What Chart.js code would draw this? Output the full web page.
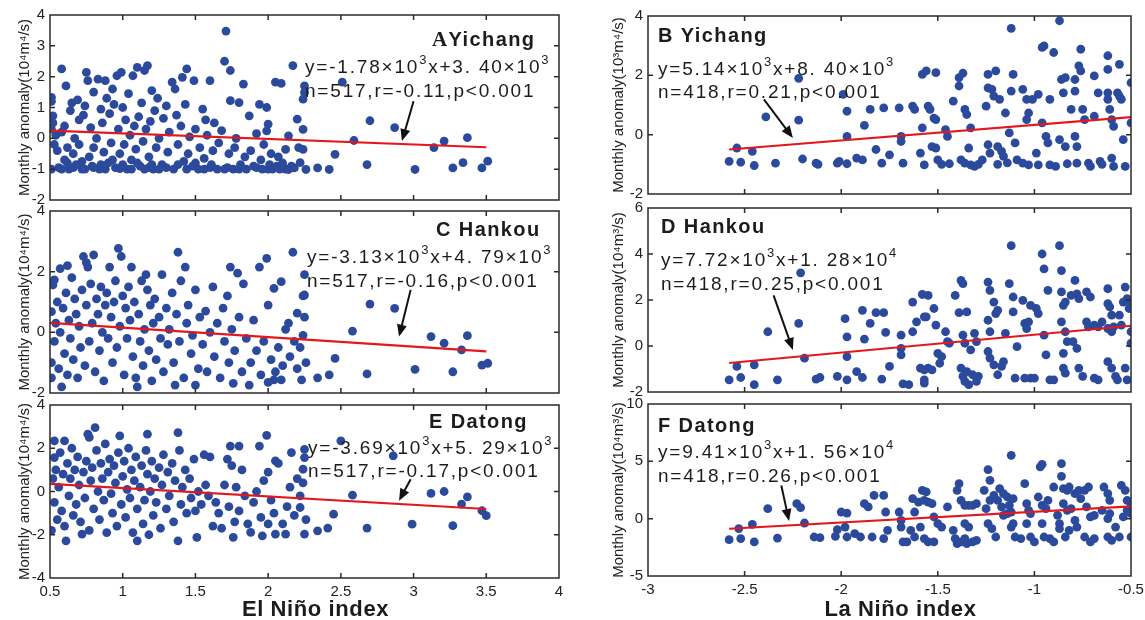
<!DOCTYPE html>
<html>
<head>
<meta charset="utf-8">
<script src="https://cdn.jsdelivr.net/npm/chart.js@4.4.0/dist/chart.umd.min.js"></script>
<style>
  html, body { margin: 0; padding: 0; background: #fff; }
  #wrap { position: relative; width: 1145px; height: 620px; overflow: hidden; }
  #wrap canvas { position: absolute; left: 0; top: 0; }
</style>
</head>
<body>
<div id="wrap"></div>
<script>
// ---- data: [index, anomaly] ----
const ptsA = [
  [0.51,1.33],[0.51,1.2],[0.52,0.73],[0.51,0.3],[0.51,-1.0],[0.53,-0.2],[0.52,0.5],[0.55,-0.4],[0.54,0.1],[0.56,-0.95],
  [0.58,2.25],[0.58,0.2],[0.58,-1.0],[0.6,-0.7],[0.6,0.4],[0.61,1.7],[0.62,-0.3],[0.62,-0.8],[0.63,-1.0],[0.64,0.9],
  [0.65,1.15],[0.66,-0.5],[0.66,-0.95],[0.67,0.0],[0.68,-0.85],[0.69,1.25],[0.7,0.6],[0.7,-0.2],[0.72,-1.0],[0.72,-0.75],
  [0.73,0.75],[0.74,1.05],[0.74,-1.0],[0.75,2.14],[0.76,1.87],[0.77,-0.6],[0.78,0.35],[0.79,-0.9],[0.8,1.5],[0.8,-0.3],
  [0.8,-0.95],[0.82,0.0],[0.83,1.92],[0.84,-1.0],[0.85,0.95],[0.85,-0.85],[0.86,0.5],[0.87,-0.45],[0.88,1.87],[0.88,-1.0],
  [0.89,1.3],[0.9,-0.8],[0.91,0.8],[0.92,-0.15],[0.93,1.6],[0.93,-0.7],[0.94,1.1],[0.95,-0.95],[0.96,2.03],[0.97,0.3],
  [0.98,-0.5],[0.98,-0.98],[0.99,2.14],[1.0,1.0],[1.0,-0.85],[1.01,-0.2],[1.02,0.6],[1.03,-1.0],[1.04,1.45],[1.05,0.1],
  [1.06,-0.7],[1.06,-1.0],[1.07,2.03],[1.08,0.4],[1.09,-0.35],[1.1,2.3],[1.1,-0.8],[1.11,0.7],[1.12,-0.9],[1.13,1.15],
  [1.14,-0.1],[1.15,2.2],[1.15,-1.0],[1.16,0.3],[1.17,2.36],[1.18,-0.6],[1.18,-0.95],[1.19,0.55],[1.2,1.55],[1.2,-0.85],
  [1.21,-1.0],[1.22,0.9],[1.23,-0.3],[1.24,1.3],[1.25,0.0],[1.25,-1.0],[1.27,-0.85],[1.28,0.65],[1.3,1.05],[1.3,-0.95],
  [1.31,-0.45],[1.32,0.2],[1.34,1.82],[1.35,-1.0],[1.36,1.6],[1.37,0.75],[1.38,-0.2],[1.38,-0.85],[1.4,0.4],[1.41,1.98],
  [1.42,-0.75],[1.43,1.1],[1.44,2.25],[1.44,-1.0],[1.45,-0.5],[1.46,0.05],[1.48,-0.9],[1.49,1.87],[1.5,0.3],[1.5,-0.8],
  [1.52,-1.0],[1.53,-0.3],[1.55,0.95],[1.56,-0.65],[1.56,-1.0],[1.57,0.6],[1.58,0.1],[1.6,1.87],[1.6,-0.95],[1.61,-0.85],
  [1.62,-0.4],[1.63,0.5],[1.65,-1.0],[1.66,-0.15],[1.68,0.25],[1.7,2.5],[1.7,-1.0],[1.71,3.48],[1.72,-0.95],[1.73,-0.5],
  [1.74,2.2],[1.74,1.22],[1.76,-1.0],[1.77,-0.3],[1.78,0.0],[1.8,1.16],[1.8,-1.0],[1.81,-0.85],[1.83,1.76],[1.84,-0.6],
  [1.85,-1.0],[1.87,0.73],[1.88,-0.4],[1.9,-0.9],[1.92,0.15],[1.92,-0.95],[1.94,1.1],[1.95,-0.7],[1.96,-1.0],[1.97,-0.2],
  [1.99,1.0],[1.99,0.24],[2.0,0.46],[2.0,-1.0],[2.01,-0.85],[2.02,-0.5],[2.03,-1.0],[2.05,1.82],[2.06,-0.9],[2.07,-0.6],
  [2.08,-1.0],[2.09,1.78],[2.1,-0.8],[2.12,-0.36],[2.12,-1.0],[2.14,0.08],[2.14,-1.01],[2.16,-0.9],[2.17,2.36],[2.18,-0.96],
  [2.2,0.62],[2.21,-0.3],[2.22,-0.79],[2.24,0.29],[2.24,1.27],[2.24,-0.36],[2.25,1.7],[2.25,1.49],[2.26,-1.01],[2.34,-0.96],
  [2.42,-1.01],[2.46,-0.52],[2.51,1.82],[2.59,-0.07],[2.68,-0.85],[2.7,0.57],[2.87,0.35],[3.01,-1.01],[3.14,-0.3],[3.21,-0.09],
  [3.27,-0.96],[3.34,-0.79],[3.37,0.02],[3.47,-0.96],[3.51,-0.74]
];
const ptsC = [
  [0.51,-1.5],[0.51,-1.0],[0.51,0.68],[0.52,1.56],[0.53,1.73],[0.58,-1.8],[0.62,2.2],[0.57,2.1],[0.73,2.5],[0.75,2.3],
  [0.8,2.55],[0.76,2.15],[0.97,2.77],[0.99,2.5],[0.91,2.15],[1.06,2.15],[1.16,1.9],[1.38,2.64],[1.43,2.15],[1.74,2.15],
  [1.79,1.95],[1.94,2.15],[1.99,2.44],[2.17,2.64],[2.09,1.67],[2.25,1.9],[2.25,1.23],[2.24,1.2],[2.2,0.63],[2.14,0.3],
  [2.04,1.45],[2.0,0.9],[2.58,0.04],[2.7,0.93],[2.87,0.79],[3.12,-0.14],[3.21,-0.36],[3.33,-0.58],[3.37,-0.11],[3.47,-1.08],
  [3.51,-1.02],[3.27,-1.3],[3.01,-1.22],[2.68,-1.37],[2.34,-1.5],[2.42,-1.4],[2.46,-0.86],[2.23,-1.57],[2.09,-1.57],[2.04,-1.57],
  [2.0,-1.65],[1.87,-1.74],[1.76,-1.68],[1.5,-1.74],[1.36,-1.74],[1.1,-1.8],
  [0.53,-0.3],[0.54,0.3],[0.55,1.0],[0.56,-1.2],[0.57,0.0],[0.59,0.8],[0.6,-0.7],[0.61,1.3],[0.62,-1.4],[0.63,0.4],
  [0.64,-0.2],[0.65,1.8],[0.66,-0.9],[0.67,1.1],[0.68,0.6],[0.69,-1.5],[0.7,0.2],[0.71,-0.5],[0.72,1.4],[0.74,-1.1],
  [0.75,0.9],[0.77,-0.3],[0.78,1.6],[0.79,0.3],[0.81,-1.3],[0.82,1.1],[0.83,0.6],[0.84,-0.6],[0.85,1.5],[0.86,0.0],
  [0.87,-1.6],[0.88,0.9],[0.89,1.3],[0.9,-0.2],[0.92,0.5],[0.93,-1.0],[0.94,1.0],[0.95,1.7],[0.96,-0.5],[0.98,0.2],
  [1.0,1.2],[1.01,-1.4],[1.02,0.8],[1.03,-0.2],[1.04,1.5],[1.05,0.4],[1.07,-0.8],[1.08,1.0],[1.09,-1.5],[1.11,0.6],
  [1.12,-0.3],[1.13,1.7],[1.14,-1.1],[1.15,0.1],[1.17,1.4],[1.18,-0.6],[1.19,0.9],[1.2,-1.6],[1.21,0.3],[1.22,1.1],
  [1.23,-0.9],[1.25,0.5],[1.26,-0.2],[1.27,1.9],[1.28,-1.3],[1.3,0.8],[1.31,-0.4],[1.32,0.1],[1.34,1.3],[1.35,-1.0],
  [1.37,0.6],[1.39,-0.3],[1.4,1.7],[1.42,-1.5],[1.44,0.3],[1.45,0.9],[1.47,-0.7],[1.48,-0.1],[1.5,1.4],[1.52,-1.2],
  [1.53,0.5],[1.55,-0.4],[1.57,0.7],[1.58,-1.3],[1.6,0.0],[1.62,1.5],[1.63,-0.8],[1.65,0.3],[1.67,-1.5],[1.69,0.8],
  [1.7,-0.3],[1.72,1.2],[1.73,-1.0],[1.75,0.1],[1.77,-0.6],[1.8,0.5],[1.82,-1.3],[1.83,1.6],[1.85,-0.2],[1.88,-1.0],
  [1.9,0.4],[1.92,-0.6],[1.95,-1.4],[1.97,-0.3],[2.02,-0.9],[2.05,-1.3],[2.07,-0.5],[2.1,-1.1],[2.12,0.1],[2.15,-0.8],
  [2.18,-0.3],[2.2,-1.2],[2.22,-0.5],[2.24,-0.1],[2.25,0.5],[2.26,-1.0]
];
const ptsE = [
  [0.51,-1.8],[0.53,1.57],[0.53,2.34],[0.6,2.34],[0.61,-2.28],[0.76,2.65],[0.81,2.95],[0.77,2.5],[0.98,2.57],[1.17,2.65],
  [1.38,2.72],[1.38,-2.28],[1.51,-2.12],[1.74,2.1],[1.8,2.1],[1.94,2.1],[1.99,2.6],[2.05,1.42],[2.16,1.8],[2.25,1.95],
  [2.25,1.57],[2.24,1.03],[2.22,-0.74],[2.34,-1.82],[2.41,-1.69],[2.45,-1.05],[2.5,2.34],[2.58,-0.17],[2.68,-1.69],[2.86,1.65],
  [2.99,-1.51],[3.12,-0.09],[3.21,0.0],[3.27,-1.58],[3.33,-0.58],[3.37,-0.25],[3.47,-0.89],[3.5,-1.12],[1.76,-2.12],[1.88,-1.89],
  [1.96,-2.05],[2.05,-1.97],[2.12,-1.97],[2.25,-1.97],[1.1,-2.28],[0.72,-1.97],
  [0.52,0.6],[0.53,-0.5],[0.54,1.0],[0.55,-1.3],[0.56,0.2],[0.57,1.8],[0.58,-0.9],[0.59,0.8],[0.6,-1.6],[0.62,1.3],
  [0.63,-0.2],[0.64,0.6],[0.65,2.0],[0.66,-1.1],[0.67,1.0],[0.68,-0.6],[0.69,1.6],[0.7,0.3],[0.71,-1.4],[0.73,0.9],
  [0.74,-0.3],[0.75,1.4],[0.77,-1.8],[0.78,0.5],[0.79,1.1],[0.8,-0.8],[0.82,1.9],[0.83,0.0],[0.84,-1.3],[0.85,1.3],
  [0.86,0.6],[0.87,-0.4],[0.88,2.2],[0.89,-1.9],[0.9,0.9],[0.91,1.5],[0.92,-0.1],[0.93,-1.0],[0.94,1.2],[0.95,0.4],
  [0.96,-1.6],[0.97,1.8],[0.99,-0.6],[1.0,0.7],[1.01,1.4],[1.02,-1.2],[1.03,0.1],[1.04,2.0],[1.05,-0.3],[1.06,1.0],
  [1.07,-1.9],[1.08,0.5],[1.09,1.6],[1.1,-0.8],[1.12,0.2],[1.13,1.2],[1.14,-1.5],[1.15,-0.4],[1.16,1.9],[1.17,0.8],
  [1.18,-2.0],[1.19,0.0],[1.2,1.4],[1.21,-1.1],[1.22,0.6],[1.23,-0.5],[1.25,1.1],[1.26,-1.7],[1.27,0.3],[1.28,1.7],
  [1.3,-0.8],[1.31,0.9],[1.32,-0.2],[1.34,1.3],[1.35,-1.4],[1.36,0.5],[1.39,1.9],[1.4,-0.6],[1.41,0.2],[1.43,1.0],
  [1.44,-1.0],[1.46,0.6],[1.47,-0.3],[1.49,1.5],[1.5,-0.9],[1.52,0.0],[1.54,-0.6],[1.56,1.7],[1.57,0.3],[1.59,-0.2],
  [1.6,1.6],[1.62,-1.6],[1.64,-0.5],[1.66,-1.0],[1.68,-1.7],[1.7,0.3],[1.72,1.5],[1.73,-0.7],[1.75,1.2],[1.77,-1.4],
  [1.78,0.2],[1.8,-0.9],[1.82,1.0],[1.84,-0.2],[1.86,-1.5],[1.9,-0.5],[1.92,0.0],[1.95,-1.2],[1.97,0.5],[2.0,0.9],
  [2.0,-1.5],[2.02,-0.4],[2.04,-1.0],[2.07,1.3],[2.1,-1.5],[2.13,-0.7],[2.15,0.2],[2.18,-1.1],[2.2,0.6],[2.22,-0.2],
  [2.24,0.4],[2.26,-1.3]
];
const ptsB = [
  [-2.58,-0.9],[-2.54,-0.45],[-2.52,-0.93],[-2.46,-0.56],[-2.45,-1.04],[-2.39,0.6],[-2.34,-0.96],[-2.22,0.49],[-2.22,1.9],[-2.2,-0.82],
  [-2.13,-0.96],[-2.12,-1.0],[-2.02,-0.96],[-2.01,-0.9],[-1.99,1.36],[-1.97,0.79],[-1.97,-0.06],[-1.97,-0.98],[-1.92,-0.79],[-1.89,-0.85],
  [-1.88,0.31],[-1.85,0.85],[-1.82,-0.5],[-1.79,-0.96],[-1.78,0.9],[-1.75,-0.68],[-1.7,0.9],[-1.69,-0.23],[-1.69,-0.06],[-1.68,-0.96],
  [-1.63,0.96],[-1.62,0.85],[-1.58,2.03],[-1.56,2.15],[-1.51,2.09],[-1.58,0.23],[-1.59,-0.62],[-1.57,-1.02],[-1.55,0.96],[-1.54,0.85],
  [-1.52,0.56],[-1.51,0.51],[-1.53,-0.4],[-1.51,-0.45],[-1.5,-0.85],[-1.46,0.17],[-1.45,-0.06],[-1.42,1.13],[-1.39,1.92],[-1.37,2.07],
  [-1.39,1.64],[-1.38,-0.85],[-1.36,-0.96],[-1.33,-1.02],[-1.31,-1.07],[-1.36,0.85],[-1.35,0.68],[-1.33,0.23],[-1.34,-0.45],[-1.27,-0.85],
  [-1.25,0.96],[-1.24,2.03],[-1.24,1.58],[-1.22,1.53],[-1.2,2.15],[-1.21,1.3],[-1.18,1.19],[-1.24,-0.34],[-1.23,-0.62],[-1.19,-0.4],
  [-1.17,-0.56],[-1.16,-0.73],[-1.15,0.73],[-1.13,0.06],[-1.12,3.58],[-1.12,1.47],[-1.11,2.03],[-1.1,-0.28],[-1.09,-0.85],[-1.06,1.53],
  [-1.04,1.19],[-1.03,0.73],[-1.04,0.51],[-1.06,-0.96],[-1.03,-1.02],[-1.01,1.19],[-0.98,1.36],[-0.96,0.4],[-0.96,2.94],[-0.95,2.99],
  [-0.94,-0.06],[-0.93,-0.28],[-0.99,-0.62],[-0.98,-1.02],[-0.9,2.77],[-0.92,1.19],[-0.92,-1.02],[-0.89,-1.07],[-0.87,3.84],[-0.86,1.86],
  [-0.84,1.92],[-0.85,1.41],[-0.87,-0.17],[-0.84,-0.4],[-0.81,0.85],[-0.79,1.86],[-0.79,1.47],[-0.79,-0.06],[-0.78,-0.4],[-0.78,-0.96],
  [-0.76,2.88],[-0.76,2.15],[-0.77,2.32],[-0.75,0.85],[-0.74,0.51],[-0.72,-0.96],[-0.71,-1.07],[-0.69,1.98],[-0.69,0.62],[-0.67,1.41],
  [-0.62,2.66],[-0.62,2.2],[-0.62,1.41],[-0.62,1.19],[-0.61,0.85],[-0.6,0.51],[-0.59,0.28],[-0.6,-0.79],[-0.59,-1.07],[-0.56,2.37],
  [-0.57,1.41],[-0.56,1.3],[-0.55,1.19],[-0.54,-0.17],[-0.53,-1.07],[-0.5,1.75],[-0.5,0.4],
  [-1.48,-1.0],[-1.44,-0.98],[-1.29,-1.0],[-1.19,-1.0],[-1.14,-0.95],[-0.83,-0.98],[-0.65,-1.0],[-0.66,-0.9]
];
const ptsD = [
  [-2.58,-1.47],[-2.54,-0.89],[-2.52,-1.37],[-2.45,-0.82],[-2.45,-1.68],[-2.38,0.62],[-2.33,-1.47],[-2.22,0.98],[-2.21,3.18],[-2.19,-0.53],
  [-2.13,-1.44],[-2.11,-1.37],[-2.02,-1.32],[-1.98,1.19],[-1.97,0.4],[-1.97,-0.46],[-1.97,-1.47],[-1.92,-1.11],[-1.89,-1.37],[-1.89,1.55],
  [-1.88,0.3],[-1.85,0.98],[-1.82,1.45],[-1.78,1.45],[-1.79,-1.44],[-1.77,0.59],[-1.75,-0.89],[-1.69,0.47],[-1.69,-0.1],[-1.69,-0.39],
  [-1.68,-1.65],[-1.65,-1.68],[-1.63,0.62],[-1.63,1.91],[-1.61,1.05],[-1.58,2.24],[-1.55,2.2],[-1.57,1.27],[-1.56,1.27],[-1.59,-0.96],
  [-1.57,-1.04],[-1.55,-0.96],[-1.53,-1.04],[-1.57,-1.47],[-1.57,-1.61],[-1.52,1.63],[-1.51,0.91],[-1.5,-0.32],[-1.48,-0.46],[-1.49,-0.75],
  [-1.46,0.62],[-1.45,0.19],[-1.44,0.12],[-1.41,2.2],[-1.39,1.45],[-1.38,2.85],[-1.37,2.71],[-1.38,-0.96],[-1.37,-1.32],[-1.36,-1.54],
  [-1.34,-1.68],[-1.35,-1.11],[-1.32,-1.25],[-1.3,-1.54],[-1.29,-1.32],[-1.37,0.47],[-1.36,0.12],[-1.33,-0.17],[-1.35,1.48],[-1.31,0.55],
  [-1.3,0.19],[-1.24,2.78],[-1.23,2.42],[-1.24,1.12],[-1.23,0.62],[-1.21,1.91],[-1.2,1.41],[-1.19,1.55],[-1.24,-0.24],[-1.23,-0.53],
  [-1.21,-0.82],[-1.19,-1.25],[-1.17,-0.89],[-1.16,-0.68],[-1.15,0.55],[-1.13,2.71],[-1.12,4.36],[-1.11,2.13],[-1.11,1.48],[-1.09,-0.03],
  [-1.1,-1.4],[-1.06,1.98],[-1.05,0.98],[-1.04,0.76],[-1.03,1.05],[-1.02,1.77],[-0.99,1.63],[-0.98,1.41],[-1.05,-1.4],[-1.02,-1.4],
  [-1.0,-1.4],[-0.96,4.0],[-0.95,3.35],[-0.95,0.47],[-0.94,-0.39],[-0.93,2.42],[-0.92,-1.47],[-0.9,-1.47],[-0.87,4.36],[-0.86,3.28],
  [-0.85,1.77],[-0.84,1.91],[-0.86,2.35],[-0.86,1.05],[-0.84,0.62],[-0.83,0.19],[-0.85,-0.32],[-0.85,-0.96],[-0.84,-1.18],[-0.79,2.85],
  [-0.81,2.2],[-0.78,2.27],[-0.77,2.06],[-0.8,0.19],[-0.78,-0.1],[-0.77,-0.96],[-0.75,-1.32],[-0.73,2.35],[-0.71,2.13],[-0.73,1.05],
  [-0.72,0.83],[-0.69,0.91],[-0.67,0.83],[-0.65,1.05],[-0.69,-1.4],[-0.67,-1.47],[-0.62,2.49],[-0.62,1.84],[-0.61,1.7],[-0.6,1.34],
  [-0.62,0.76],[-0.6,0.62],[-0.59,0.83],[-0.62,-0.68],[-0.6,-0.96],[-0.58,-1.32],[-0.57,-1.47],[-0.53,2.56],[-0.54,1.91],[-0.52,2.06],
  [-0.51,1.63],[-0.56,1.34],[-0.55,0.91],[-0.53,-0.96],[-0.52,-1.47],[-0.5,1.84],[-0.5,0.62],[-0.5,0.12]
];
const ptsF = [
  [-2.58,-1.83],[-2.53,-0.87],[-2.52,-1.74],[-2.46,-0.49],[-2.45,-2.03],[-2.38,0.87],[-2.33,-1.69],[-2.23,1.31],[-2.21,0.96],[-2.19,-0.38],
  [-2.14,-1.6],[-2.11,-1.66],[-2.03,-1.54],[-2.02,-0.96],[-2.0,0.58],[-1.97,0.49],[-1.98,-0.73],[-1.97,-1.6],[-1.93,-1.31],[-1.9,-1.6],
  [-1.88,1.31],[-1.86,1.02],[-1.83,2.03],[-1.78,2.03],[-1.84,-1.6],[-1.78,-1.74],[-1.77,0.58],[-1.76,-1.02],[-1.7,0.58],[-1.69,-0.15],
  [-1.69,-0.73],[-1.68,-2.03],[-1.66,-2.03],[-1.63,1.74],[-1.62,0.58],[-1.6,1.45],[-1.64,-1.02],[-1.62,-1.6],[-1.58,2.47],[-1.56,2.33],
  [-1.57,1.6],[-1.55,1.45],[-1.53,1.31],[-1.59,-0.73],[-1.57,-1.74],[-1.55,-2.03],[-1.52,-2.03],[-1.52,0.15],[-1.5,-0.44],[-1.48,-0.73],
  [-1.45,1.02],[-1.42,-1.02],[-1.41,-1.74],[-1.4,-2.18],[-1.38,-2.03],[-1.36,-1.74],[-1.35,-2.18],[-1.32,-2.03],[-1.3,-1.89],[-1.4,2.47],
  [-1.39,3.05],[-1.38,1.6],[-1.36,1.16],[-1.34,1.16],[-1.32,1.16],[-1.3,1.31],[-1.36,-0.44],[-1.34,-0.73],[-1.26,2.47],[-1.24,4.27],
  [-1.23,3.34],[-1.25,0.87],[-1.23,1.6],[-1.21,2.03],[-1.19,1.6],[-1.24,-0.44],[-1.22,-0.87],[-1.2,-1.6],[-1.18,2.62],[-1.16,2.18],
  [-1.14,1.89],[-1.17,1.02],[-1.16,0.29],[-1.14,0.44],[-1.12,5.52],[-1.13,1.16],[-1.12,0.58],[-1.11,1.74],[-1.12,-0.73],[-1.11,-0.44],
  [-1.1,-1.6],[-1.07,-1.74],[-1.05,3.05],[-1.04,1.31],[-1.03,0.73],[-1.02,0.44],[-1.04,-0.44],[-1.02,-1.6],[-1.0,-2.03],[-0.97,4.51],
  [-0.96,4.74],[-0.98,1.89],[-0.96,1.16],[-0.94,0.87],[-0.93,1.6],[-0.96,-0.44],[-0.95,-1.6],[-0.92,-1.74],[-0.9,-2.03],[-0.9,2.76],
  [-0.88,0.29],[-0.87,-0.44],[-0.87,-0.87],[-0.86,4.8],[-0.86,3.69],[-0.85,2.62],[-0.83,2.47],[-0.82,2.76],[-0.85,1.31],[-0.83,0.73],
  [-0.81,0.87],[-0.84,-1.6],[-0.82,-1.02],[-0.79,2.18],[-0.77,2.47],[-0.76,1.74],[-0.79,-0.15],[-0.78,-0.73],[-0.74,2.47],[-0.72,2.76],
  [-0.73,1.02],[-0.71,0.15],[-0.69,0.29],[-0.74,-1.6],[-0.71,-2.03],[-0.69,-1.74],[-0.64,2.76],[-0.62,2.18],[-0.61,1.6],[-0.65,0.73],
  [-0.62,0.0],[-0.61,0.44],[-0.62,-1.6],[-0.6,-1.89],[-0.58,-0.73],[-0.56,-1.6],[-0.55,2.91],[-0.53,2.47],[-0.52,1.6],[-0.54,0.15],
  [-0.52,0.73],[-0.5,1.31],[-0.5,0.44],[-0.5,-1.6]
];

// fitted lines (end points as drawn) and arrow [from, to]
const fitA = [[0.5,0.25],[3.5,-0.29]];
const fitC = [[0.5,0.31],[3.5,-0.63]];
const fitE = [[0.5,0.35],[3.5,-0.81]];
const fitB = [[-2.58,-0.5],[-0.5,0.59]];
const fitD = [[-2.58,-0.74],[-0.5,0.88]];
const fitF = [[-2.58,-0.88],[-0.5,1.07]];
const arrowA = [[3.0,1.2],[2.92,-0.09]];
const arrowC = [[2.98,1.4],[2.9,-0.14]];
const arrowE = [[2.98,0.57],[2.9,-0.43]];
const arrowB = [[-2.4,1.19],[-2.25,-0.11]];
const arrowD = [[-2.35,2.2],[-2.25,-0.17]];
const arrowF = [[-2.31,2.9],[-2.27,-0.2]];

// axis ranges [min, max, step]
const xElNino = [0.5, 4, 0.5];
const xLaNina = [-3, -0.5, 0.5];
const yA = [-2, 4, 1], yC = [-2, 4, 2], yE = [-4, 4, 2];
const yB = [-2, 4, 2], yD = [-2, 6, 2], yF = [-5, 10, 5];

const eqA = ['y=-1.78×10^3x+3. 40×10^3', 'n=517,r=-0.11,p<0.001'];
const eqC = ['y=-3.13×10^3x+4. 79×10^3', 'n=517,r=-0.16,p<0.001'];
const eqE = ['y=-3.69×10^3x+5. 29×10^3', 'n=517,r=-0.17,p<0.001'];
const eqB = ['y=5.14×10^3x+8. 40×10^3', 'n=418,r=0.21,p<0.001'];
const eqD = ['y=7.72×10^3x+1. 28×10^4', 'n=418,r=0.25,p<0.001'];
const eqF = ['y=9.41×10^3x+1. 56×10^4', 'n=418,r=0.26,p<0.001'];

const FONT = '"Liberation Sans", Arial, Helvetica, sans-serif';
const INK = '#1c1c1c';
const DOT = '#2c4a9b';

// area = [left, right, top, bottom]; text = [title x, title y, eq x, eq1 y, eq2 y]
const panels = [
  { pts: ptsA, fit: fitA, arrow: arrowA, xr: xElNino, yr: yA, area: [50,559,15,200], padL: 16,
    yTitle: 'Monthly anomaly(10⁴m⁴/s)', lead: 'A', title: 'Yichang', eq: eqA, text: [432,46,305,73,97] },
  { pts: ptsC, fit: fitC, arrow: arrowC, xr: xElNino, yr: yC, area: [50,559,211,393], padL: 16,
    yTitle: 'Monthly anomaly(10⁴m⁴/s)', title: 'C Hankou', eq: eqC, text: [436,236,307,263,287] },
  { pts: ptsE, fit: fitE, arrow: arrowE, xr: xElNino, yr: yE, area: [50,559,405,578], padL: 16,
    yTitle: 'Monthly anomaly(10⁴m⁴/s)', title: 'E Datong', eq: eqE, text: [429,428,308,454,477], xTitle: 'El Niño index' },
  { pts: ptsB, fit: fitB, arrow: arrowB, xr: xLaNina, yr: yB, area: [648,1131,16,194], padL: 610,
    yTitle: 'Monthly anomaly(10³m⁴/s)', title: 'B Yichang', eq: eqB, text: [658,42,658,75,98] },
  { pts: ptsD, fit: fitD, arrow: arrowD, xr: xLaNina, yr: yD, area: [648,1131,208,392], padL: 610,
    yTitle: 'Monthly anomaly(10⁴m³/s)', title: 'D Hankou', eq: eqD, text: [661,233,661,266,290] },
  { pts: ptsF, fit: fitF, arrow: arrowF, xr: xLaNina, yr: yF, area: [648,1131,404,576], padL: 610,
    yTitle: 'Monthly anomaly(10⁴m³/s)', title: 'F Datong', eq: eqF, text: [658,432,658,458,482], xTitle: 'La Niño index' }
];

function richText(ctx, str, x, y, size) {
  const parts = str.split(/\^(\d)/);
  let cx = x;
  parts.forEach((s, i) => {
    if (!s) return;
    const sup = i % 2 === 1;
    ctx.font = (sup ? Math.round(size * 0.68) : size) + 'px ' + FONT;
    ctx.fillText(s, cx, sup ? y - size * 0.5 : y);
    cx += ctx.measureText(s).width;
  });
}

function framePlugin(p) {
  return {
    id: 'frame',
    afterDraw(chart) {
      const { ctx, chartArea: a } = chart;
      const xs = chart.scales.x, ys = chart.scales.y;
      ctx.save();

      // arrow
      const x0 = xs.getPixelForValue(p.arrow[0][0]), y0 = ys.getPixelForValue(p.arrow[0][1]);
      const x1 = xs.getPixelForValue(p.arrow[1][0]), y1 = ys.getPixelForValue(p.arrow[1][1]);
      const ang = Math.atan2(y1 - y0, x1 - x0), c = Math.cos(ang), s = Math.sin(ang);
      ctx.strokeStyle = '#111'; ctx.fillStyle = '#111'; ctx.lineWidth = 2;
      ctx.beginPath(); ctx.moveTo(x0, y0); ctx.lineTo(x1 - 8 * c, y1 - 8 * s); ctx.stroke();
      ctx.beginPath();
      ctx.moveTo(x1, y1);
      ctx.lineTo(x1 - 12 * c + 5 * s, y1 - 12 * s - 5 * c);
      ctx.lineTo(x1 - 12 * c - 5 * s, y1 - 12 * s + 5 * c);
      ctx.closePath(); ctx.fill();

      // box and inward ticks
      ctx.strokeStyle = '#2a2a2a'; ctx.lineWidth = 1.5;
      ctx.strokeRect(a.left, a.top, a.right - a.left, a.bottom - a.top);
      ctx.beginPath();
      xs.ticks.forEach(t => {
        const px = xs.getPixelForValue(t.value);
        if (px <= a.left + 1 || px >= a.right - 1) return;
        ctx.moveTo(px, a.bottom); ctx.lineTo(px, a.bottom - 5);
        ctx.moveTo(px, a.top); ctx.lineTo(px, a.top + 5);
      });
      ys.ticks.forEach(t => {
        const py = ys.getPixelForValue(t.value);
        if (py <= a.top + 1 || py >= a.bottom - 1) return;
        ctx.moveTo(a.left, py); ctx.lineTo(a.left + 5, py);
        ctx.moveTo(a.right, py); ctx.lineTo(a.right - 5, py);
      });
      ctx.stroke();

      // panel title
      ctx.fillStyle = INK; ctx.textAlign = 'left'; ctx.textBaseline = 'alphabetic';
      ctx.letterSpacing = '1.4px';
      let tx = p.text[0];
      if (p.lead) {
        ctx.font = 'bold 21px "Liberation Serif", "Times New Roman", serif';
        ctx.fillText(p.lead, tx, p.text[1]);
        tx += ctx.measureText(p.lead).width;
      }
      ctx.font = 'bold 20px ' + FONT;
      ctx.fillText(p.title, tx, p.text[1]);

      // regression text
      ctx.letterSpacing = '1.8px';
      richText(ctx, p.eq[0], p.text[2], p.text[3], 19);
      richText(ctx, p.eq[1], p.text[2], p.text[4], 19);

      // x axis title
      if (p.xTitle) {
        ctx.letterSpacing = '0.6px';
        ctx.textAlign = 'center';
        ctx.font = 'bold 22px ' + FONT;
        ctx.fillText(p.xTitle, (a.left + a.right) / 2 + 11, 616);
      }
      ctx.restore();
    }
  };
}

const wrap = document.getElementById('wrap');
panels.forEach(p => {
  const cv = document.createElement('canvas');
  cv.width = 1145; cv.height = 620;
  wrap.appendChild(cv);
  const [l, r, t, b] = p.area;
  const hx = p.xTitle ? 30 : 0;
  const wy = l - p.padL;
  const fmt = v => String(Math.round(v * 10) / 10);
  new Chart(cv, {
    type: 'scatter',
    data: {
      datasets: [
        { type: 'line', data: p.fit, borderColor: '#e5171c', borderWidth: 2.2, pointRadius: 0, fill: false, order: 0 },
        { data: p.pts, backgroundColor: DOT, borderColor: DOT, borderWidth: 0, pointRadius: 4.4, order: 1 }
      ]
    },
    options: {
      responsive: false,
      animation: false,
      events: [],
      layout: { padding: { left: p.padL, right: 1145 - r, top: t, bottom: 620 - b - hx } },
      plugins: { legend: { display: false }, tooltip: { enabled: false } },
      scales: {
        x: {
          type: 'linear', min: p.xr[0], max: p.xr[1],
          ticks: { stepSize: p.xr[2], display: !!p.xTitle, maxRotation: 0, autoSkip: false, padding: 5,
                   font: { family: FONT, size: 15 }, color: '#222', callback: fmt },
          grid: { display: false, drawTicks: false }, border: { display: false },
          afterFit: s => { s.height = hx; s.paddingLeft = 0; s.paddingRight = 0; }
        },
        y: {
          type: 'linear', min: p.yr[0], max: p.yr[1],
          ticks: { stepSize: p.yr[2], padding: 5, autoSkip: false, font: { family: FONT, size: 15 }, color: '#222', callback: fmt },
          grid: { display: false, drawTicks: false }, border: { display: false },
          title: { display: true, text: p.yTitle, color: '#222', padding: 0, font: { family: FONT, size: 15 } },
          afterFit: s => { s.width = wy; s.paddingTop = 0; s.paddingBottom = 0; }
        }
      }
    },
    plugins: [framePlugin(p)]
  });
});
</script>
</body>
</html>
